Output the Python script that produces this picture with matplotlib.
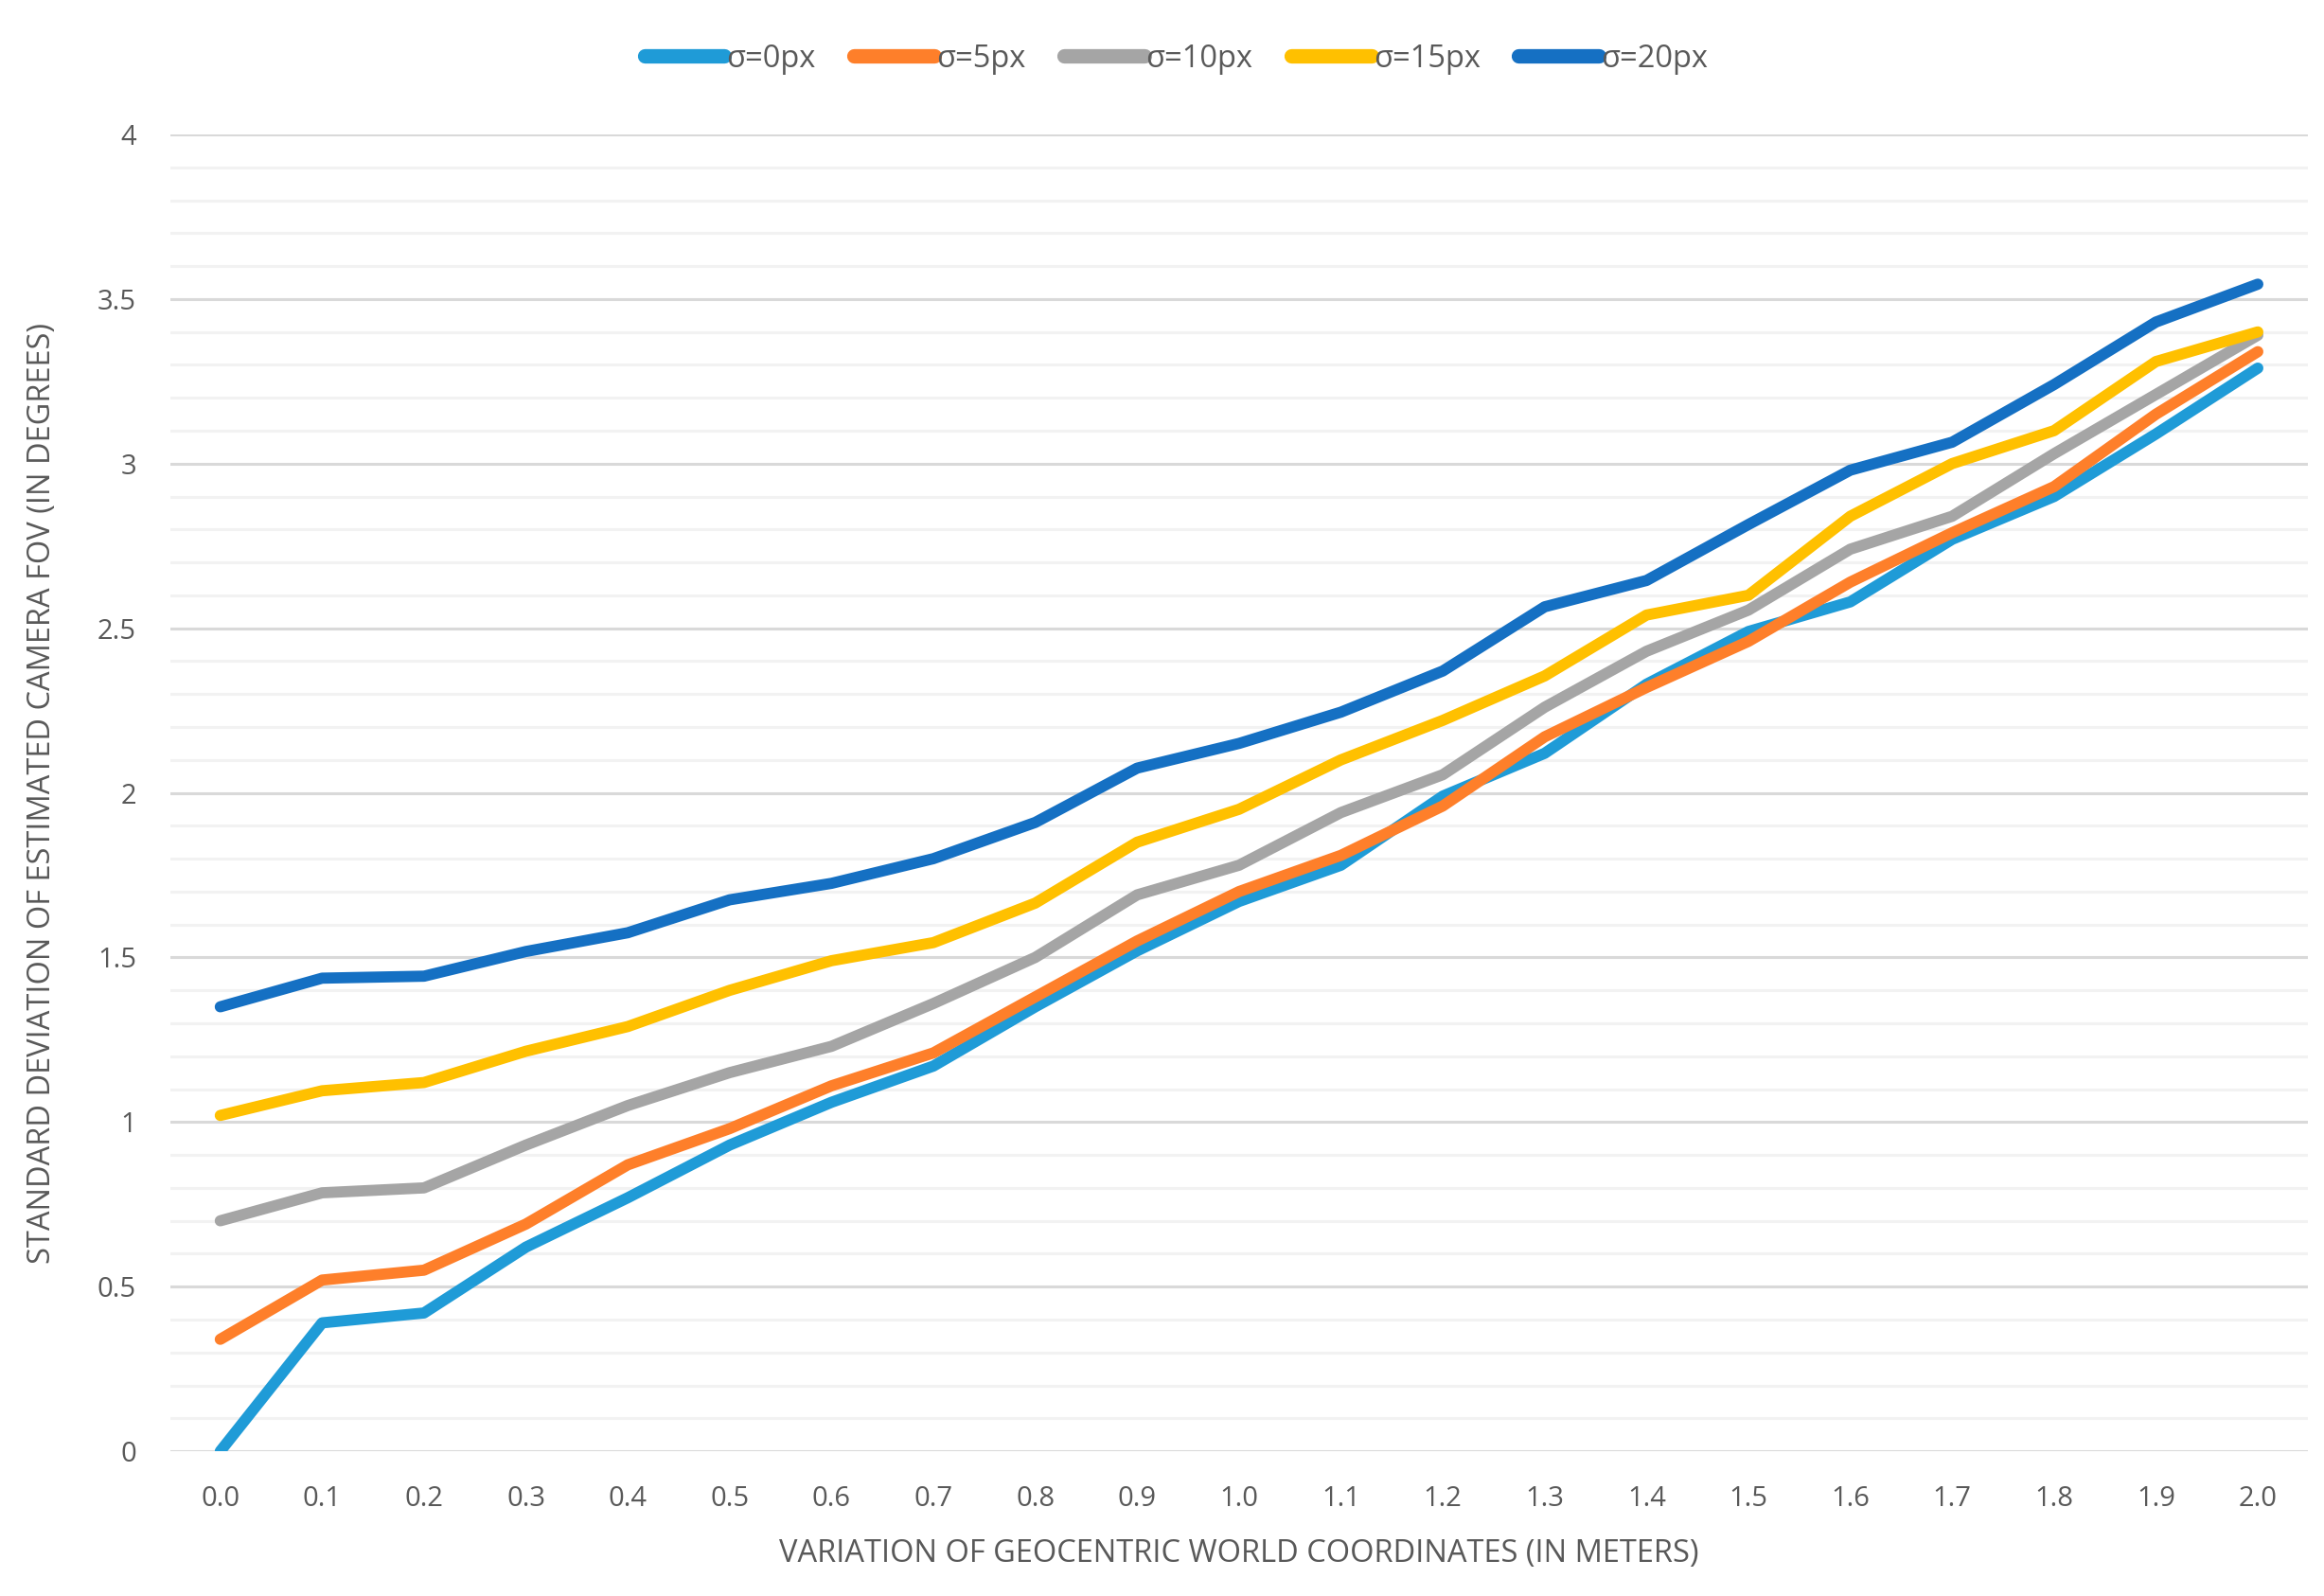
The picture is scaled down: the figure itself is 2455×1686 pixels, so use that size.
import matplotlib
matplotlib.use("Agg")
import matplotlib.pyplot as plt
import numpy as np
from matplotlib.ticker import MultipleLocator, FuncFormatter

categories = ["0.0", "0.1", "0.2", "0.3", "0.4", "0.5", "0.6", "0.7", "0.8", "0.9", "1.0",
              "1.1", "1.2", "1.3", "1.4", "1.5", "1.6", "1.7", "1.8", "1.9", "2.0"]

sigma0 = [0.00, 0.39, 0.42, 0.62, 0.77, 0.93, 1.06, 1.17, 1.35, 1.52, 1.67,
          1.78, 1.99, 2.12, 2.33, 2.49, 2.58, 2.77, 2.90, 3.09, 3.29]
sigma5 = [0.34, 0.52, 0.55, 0.69, 0.87, 0.98, 1.11, 1.21, 1.38, 1.55, 1.70,
          1.81, 1.96, 2.17, 2.32, 2.46, 2.64, 2.79, 2.93, 3.15, 3.34]
sigma10 = [0.70, 0.785, 0.80, 0.93, 1.05, 1.15, 1.23, 1.36, 1.50, 1.69, 1.78,
           1.94, 2.055, 2.26, 2.43, 2.555, 2.74, 2.84, 3.03, 3.21, 3.39]
sigma15 = [1.02, 1.095, 1.12, 1.215, 1.29, 1.40, 1.49, 1.545, 1.665, 1.85, 1.95,
           2.10, 2.22, 2.355, 2.54, 2.60, 2.84, 3.00, 3.10, 3.31, 3.40]
sigma20 = [1.35, 1.437, 1.443, 1.518, 1.575, 1.675, 1.725, 1.80, 1.91, 2.075, 2.15,
           2.245, 2.37, 2.565, 2.645, 2.815, 2.98, 3.065, 3.24, 3.43, 3.545]

series_labels = ["σ=0px", "σ=5px", "σ=10px", "σ=15px", "σ=20px"]
series_values = [sigma0, sigma5, sigma10, sigma15, sigma20]
series_colors = ["#1F9BD7", "#FE7F2A", "#A5A5A5", "#FFC000", "#1570C3"]

plt.rcParams['font.family'] = ['Open Sans', 'DejaVu Sans']
text_color = "#595959"

fig = plt.figure(figsize=(24.55, 16.86), dpi=100)
ax = fig.add_axes([0.0733, 0.0907, 0.9197, 0.8251])

x = np.arange(len(categories))
for vals, lab, col in zip(series_values, series_labels, series_colors):
    ax.plot(x, vals, color=col, linewidth=8.5, label=lab,
            solid_capstyle='round', solid_joinstyle='round', zorder=3)

ax.set_xlim(-0.49, len(categories) - 0.51)
ax.set_ylim(0, 4)
ax.set_xticks(x)
ax.set_xticklabels(categories)
ax.yaxis.set_major_locator(MultipleLocator(0.5))
ax.yaxis.set_minor_locator(MultipleLocator(0.1))
ax.yaxis.set_major_formatter(FuncFormatter(lambda v, p: f"{v:g}"))

ax.grid(axis='y', which='major', color="#D9D9D9", linewidth=2.2, zorder=0)
ax.grid(axis='y', which='minor', color="#F2F2F2", linewidth=2.2, zorder=0)
ax.grid(axis='x', which='both', visible=False)
for s in ax.spines.values():
    s.set_visible(False)
ax.tick_params(axis='both', which='both', length=0, colors=text_color, labelsize=21)
ax.tick_params(axis='y', pad=26)
ax.tick_params(axis='x', pad=26)

ax.set_xlabel("VARIATION OF GEOCENTRIC WORLD COORDINATES (IN METERS)",
              fontsize=23.5, color=text_color, labelpad=19)
ax.set_ylabel("STANDARD DEVIATION OF ESTIMATED CAMERA FOV (IN DEGREES)",
              fontsize=23.5, color=text_color, labelpad=30)

leg = fig.legend(loc='center', bbox_to_anchor=(0.506, 0.963), ncol=5, frameon=False,
                 fontsize=23.5, handlelength=2.6, handletextpad=0.05, columnspacing=1.25,
                 labelcolor=text_color)
for h in leg.get_lines():
    h.set_linewidth(11)
    h.set_solid_capstyle('round')

fig.savefig("out.png", dpi=100, facecolor='white')
